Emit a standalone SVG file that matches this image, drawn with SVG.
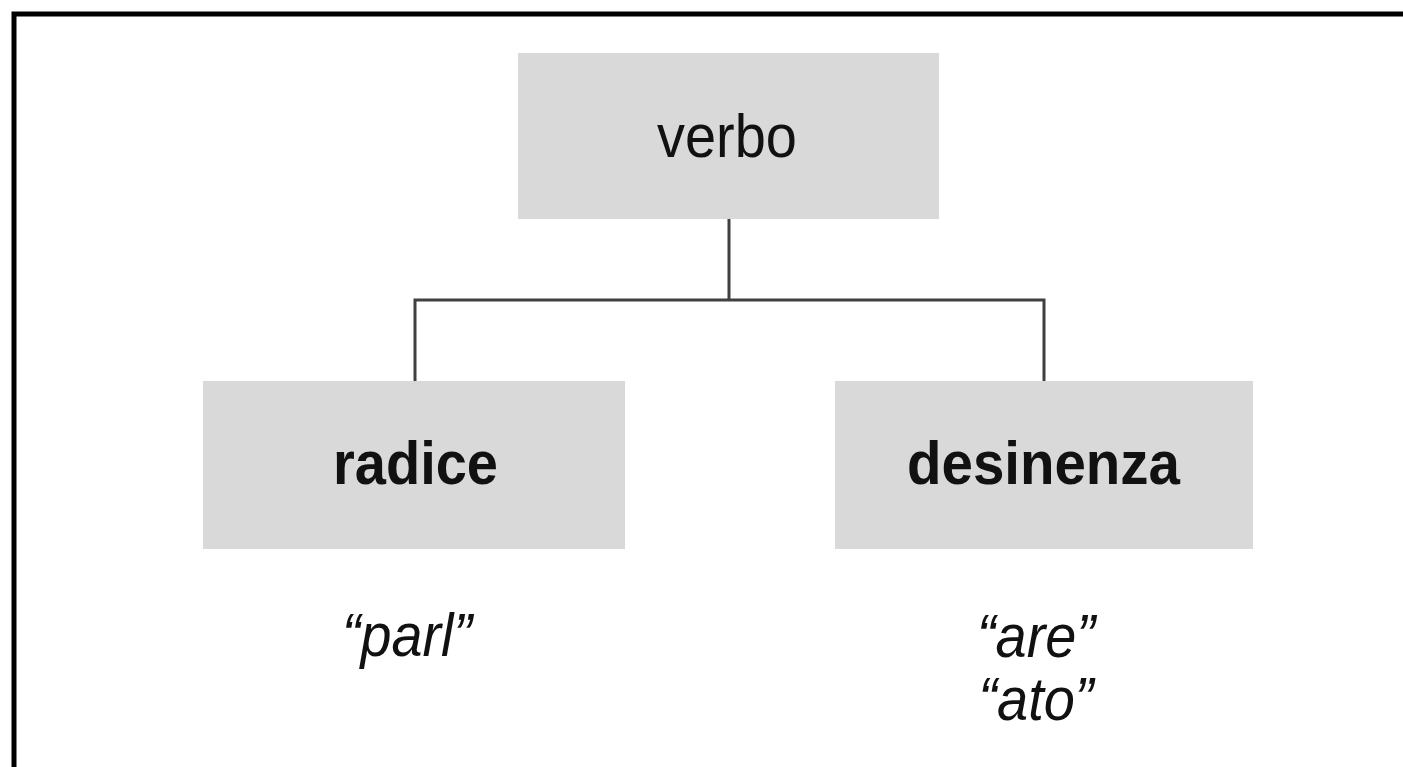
<svg xmlns="http://www.w3.org/2000/svg" width="1403" height="767" viewBox="0 0 1403 767">
<style>
.box{fill:#d9d9d9;}
.lbl{font-family:"Liberation Sans",Arial,sans-serif;font-size:61px;fill:#111;text-anchor:middle;}
.b{font-weight:bold;}
.it{font-style:italic;}
.conn{stroke:#404040;stroke-width:3;fill:none;}
</style>
<rect x="0" y="0" width="1403" height="767" fill="#fff"/>
<rect x="14" y="14" width="1500" height="900" fill="none" stroke="#000" stroke-width="5"/>
<g id="connectors">
<path class="conn" d="M729 219 V300 M415 300 H1045 M415 298.5 V381 M1044 298.5 V381"/>
</g>
<g id="node-verbo">
<rect class="box" x="518" y="53" width="421" height="166"/>
<text class="lbl" x="727" y="157" textLength="140" lengthAdjust="spacingAndGlyphs">verbo</text>
</g>
<g id="node-radice">
<rect class="box" x="203" y="381" width="422" height="168"/>
<text class="lbl b" x="415.5" y="484" textLength="165" lengthAdjust="spacingAndGlyphs">radice</text>
</g>
<g id="node-desinenza">
<rect class="box" x="835" y="381" width="418" height="168"/>
<text class="lbl b" x="1043.5" y="484" textLength="273" lengthAdjust="spacingAndGlyphs">desinenza</text>
</g>
<g id="example-radice">
<text class="lbl it" x="407" y="656" textLength="130" lengthAdjust="spacingAndGlyphs">“parl”</text>
</g>
<g id="example-desinenza">
<text class="lbl it" x="1036" y="657" textLength="118" lengthAdjust="spacingAndGlyphs">“are”</text>
<text class="lbl it" x="1036" y="720" textLength="115" lengthAdjust="spacingAndGlyphs">“ato”</text>
</g>
</svg>
